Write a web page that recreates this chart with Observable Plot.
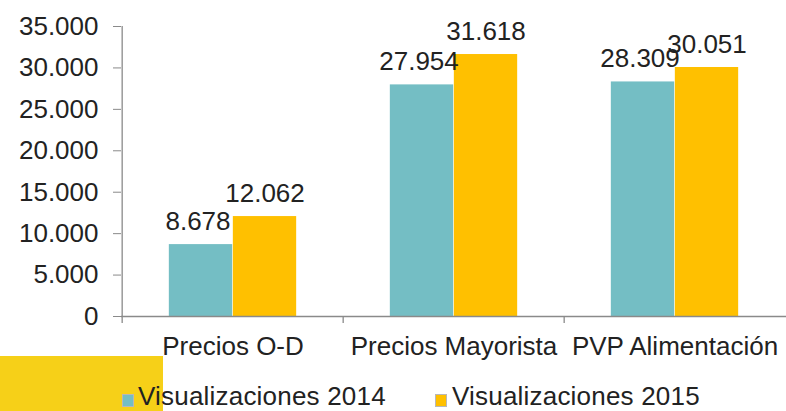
<!DOCTYPE html>
<html>
<head>
<meta charset="utf-8">
<script src="https://cdn.jsdelivr.net/npm/d3@7"></script>
<script src="https://cdn.jsdelivr.net/npm/@observablehq/plot@0.6"></script>
<style>
  html, body { margin: 0; padding: 0; background: #fff; }
  #wrap { position: relative; width: 786px; height: 411px; overflow: hidden; font-family: "Liberation Sans", Arial, sans-serif; }
  #deco { position: absolute; left: 0; top: 356px; width: 163px; height: 55px; background: #F6D018; }
  #chart { position: absolute; left: 0; top: 0; }
  .leg-sw { position: absolute; width: 10px; height: 11px; top: 394px; border: 1px solid #b8b8b8; box-sizing: content-box; }
  .leg-tx { position: absolute; top: 386px; font-size: 26px; line-height: 20px; color: #222; white-space: nowrap; letter-spacing: 0.2px; }
</style>
</head>
<body>
<div id="wrap">
  <div id="deco"></div>
  <div id="chart"></div>
  <div id="legend"></div>
</div>
<script>
const categories = ["Precios O-D", "Precios Mayorista", "PVP Alimentación"];
const series = ["Visualizaciones 2014", "Visualizaciones 2015"];
const values2014 = [8678, 27954, 28309];
const values2015 = [12062, 31618, 30051];
const yTicks = [0, 5000, 10000, 15000, 20000, 25000, 30000, 35000];

const colors = ["#74BEC4", "#FFC000"];
const axisColor = "#8a8a8a";
const W = 786, H = 372, mL = 121, mR = 0, mT = 26, mB = 56;
const step = (W - mL - mR) / categories.length;
const barW = 64;

const fmt = d3.formatLocale({decimal: ",", thousands: ".", grouping: [3], currency: ["", ""]}).format(",d");

const d2014 = categories.map((c, i) => ({cat: c, v: values2014[i]}));
const d2015 = categories.map((c, i) => ({cat: c, v: values2015[i]}));

const chart = Plot.plot({
  width: W, height: H,
  marginLeft: mL, marginRight: mR, marginTop: mT, marginBottom: mB,
  style: {fontFamily: "'Liberation Sans', Arial, sans-serif", fontSize: "26px", background: "transparent", color: "#222"},
  x: {domain: categories, padding: 0, axis: null},
  y: {domain: [0, 35000], axis: null},
  marks: [
    Plot.barY(d2014, {x: "cat", y: "v", fill: colors[0], insetLeft: step / 2 - barW, insetRight: step / 2}),
    Plot.barY(d2015, {x: "cat", y: "v", fill: colors[1], insetLeft: step / 2, insetRight: step / 2 - barW}),
    // y axis
    Plot.axisY({ticks: yTicks, tickFormat: fmt, tickSize: 8, tickPadding: 15, fontSize: 26, stroke: axisColor, fill: "#222", label: null}),
    Plot.ruleX([categories[0]], {x: d => d, y1: 35000, y2: 0, dx: -step / 2, stroke: axisColor, strokeWidth: 1.3, insetBottom: -7}),
    // x axis baseline and boundary ticks
    Plot.ruleY([0], {stroke: axisColor, strokeWidth: 1.3}),
    Plot.ruleX(categories.slice(1), {x: d => d, y1: 0, y2: 0, dx: -step / 2, stroke: axisColor, strokeWidth: 1.3, insetBottom: -7}),
    Plot.axisX({tickSize: 0, tickPadding: 20, fontSize: 26, fill: "#222", label: null}),
    // value labels
    Plot.text(d2014, {x: "cat", y: "v", text: d => fmt(d.v), dx: -barW / 2 - 3, dy: -15, lineAnchor: "bottom", fontSize: 26, fill: "#222"}),
    Plot.text(d2015, {x: "cat", y: "v", text: d => fmt(d.v), dx: barW / 2, dy: -15, lineAnchor: "bottom", fontSize: 26, fill: "#222"})
  ]
});
document.getElementById("chart").appendChild(chart);

// legend
const legend = document.getElementById("legend");
const legPos = [{sw: 122, tx: 138}, {sw: 435, tx: 452}];
series.forEach((s, i) => {
  const sw = document.createElement("div");
  sw.className = "leg-sw";
  sw.style.left = legPos[i].sw + "px";
  sw.style.background = colors[i];
  legend.appendChild(sw);
  const tx = document.createElement("div");
  tx.className = "leg-tx";
  tx.style.left = legPos[i].tx + "px";
  tx.textContent = s;
  legend.appendChild(tx);
});
</script>
</body>
</html>
